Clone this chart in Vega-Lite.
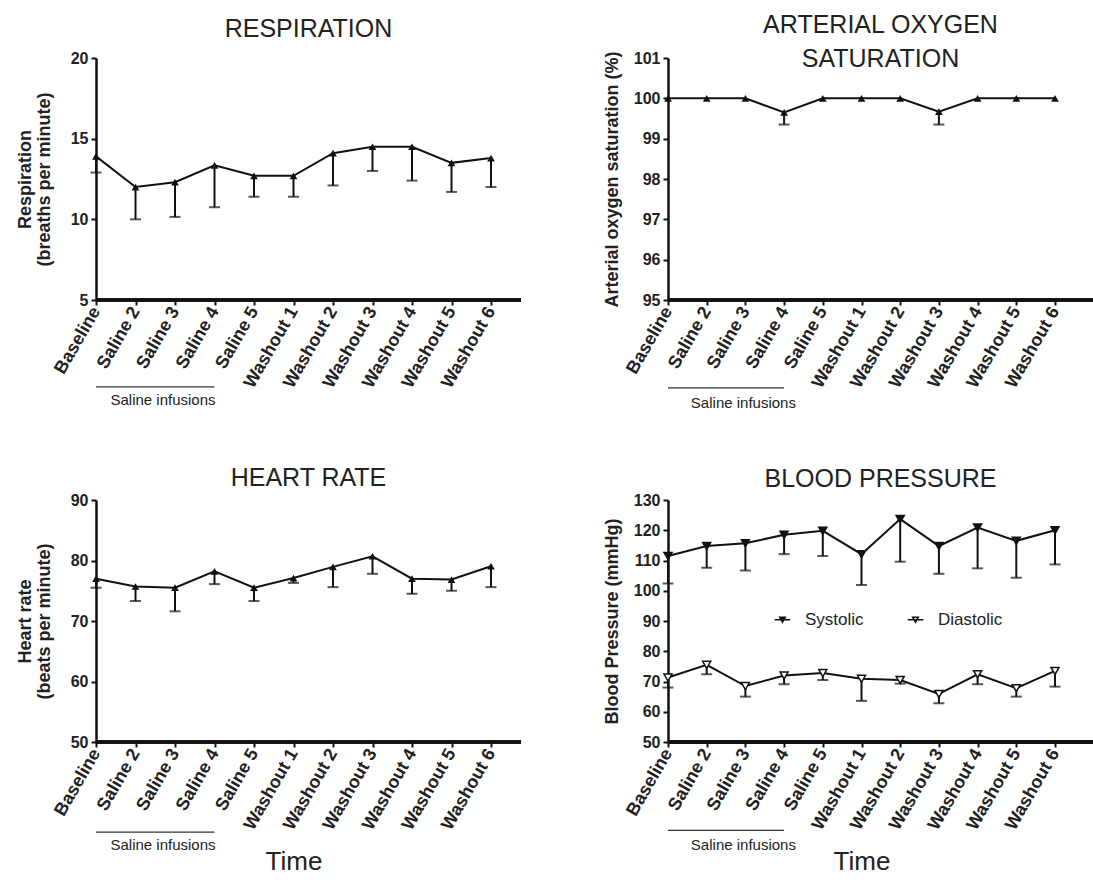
{
  "$schema": "https://vega.github.io/schema/vega-lite/v6.json",
  "background": "white",
  "padding": {"left": 16, "top": 13, "right": 0, "bottom": 0},
  "config": {
    "view": {"stroke": null},
    "font": "Liberation Sans",
    "axis": {"grid": false, "domainColor": "#111", "domainWidth": 2.5, "tickColor": "#111", "tickWidth": 2, "tickSize": 5, "labelFont": "Liberation Sans", "labelFontWeight": "bold", "labelFontSize": 16, "labelColor": "#222", "titleFont": "Liberation Sans", "titleFontWeight": "bold", "titleFontSize": 18, "titleColor": "#222", "labelPadding": 3, "labelOverlap": false},
    "axisY": {"labelOverlap": false},
    "axisX": {"labelFontSize": 18},
    "title": {"font": "Liberation Sans", "fontSize": 25, "fontWeight": "normal", "color": "#222", "anchor": "middle", "frame": "group"}
  },
  "datasets": {
    "resp": [
      {"time": "Baseline", "mean": 13.9, "lower": 12.9},
      {"time": "Saline 2", "mean": 12.0, "lower": 10.0},
      {"time": "Saline 3", "mean": 12.3, "lower": 10.15},
      {"time": "Saline 4", "mean": 13.35, "lower": 10.75},
      {"time": "Saline 5", "mean": 12.7, "lower": 11.4},
      {"time": "Washout 1", "mean": 12.7, "lower": 11.4},
      {"time": "Washout 2", "mean": 14.1, "lower": 12.1},
      {"time": "Washout 3", "mean": 14.5, "lower": 13.0},
      {"time": "Washout 4", "mean": 14.5, "lower": 12.4},
      {"time": "Washout 5", "mean": 13.5, "lower": 11.7},
      {"time": "Washout 6", "mean": 13.8, "lower": 12.0}
    ],
    "spo2": [
      {"time": "Baseline", "mean": 100, "lower": null},
      {"time": "Saline 2", "mean": 100, "lower": null},
      {"time": "Saline 3", "mean": 100, "lower": null},
      {"time": "Saline 4", "mean": 99.65, "lower": 99.35},
      {"time": "Saline 5", "mean": 100, "lower": null},
      {"time": "Washout 1", "mean": 100, "lower": null},
      {"time": "Washout 2", "mean": 100, "lower": null},
      {"time": "Washout 3", "mean": 99.67, "lower": 99.35},
      {"time": "Washout 4", "mean": 100, "lower": null},
      {"time": "Washout 5", "mean": 100, "lower": null},
      {"time": "Washout 6", "mean": 100, "lower": null}
    ],
    "hr": [
      {"time": "Baseline", "mean": 77.0, "lower": 75.5},
      {"time": "Saline 2", "mean": 75.7, "lower": 73.3},
      {"time": "Saline 3", "mean": 75.5, "lower": 71.6},
      {"time": "Saline 4", "mean": 78.2, "lower": 76.1},
      {"time": "Saline 5", "mean": 75.5, "lower": 73.3},
      {"time": "Washout 1", "mean": 77.1, "lower": 76.3},
      {"time": "Washout 2", "mean": 78.95, "lower": 75.6},
      {"time": "Washout 3", "mean": 80.7, "lower": 77.8},
      {"time": "Washout 4", "mean": 77.0, "lower": 74.5},
      {"time": "Washout 5", "mean": 76.85, "lower": 75.0},
      {"time": "Washout 6", "mean": 79.05, "lower": 75.6}
    ],
    "bp": [
      {"series": "Systolic", "time": "Baseline", "mean": 111.5, "lower": 102.4},
      {"series": "Systolic", "time": "Saline 2", "mean": 114.8, "lower": 107.6},
      {"series": "Systolic", "time": "Saline 3", "mean": 115.7, "lower": 106.7},
      {"series": "Systolic", "time": "Saline 4", "mean": 118.5, "lower": 112.1},
      {"series": "Systolic", "time": "Saline 5", "mean": 119.8, "lower": 111.5},
      {"series": "Systolic", "time": "Washout 1", "mean": 112.1, "lower": 101.9},
      {"series": "Systolic", "time": "Washout 2", "mean": 123.7, "lower": 109.6},
      {"series": "Systolic", "time": "Washout 3", "mean": 114.8, "lower": 105.6},
      {"series": "Systolic", "time": "Washout 4", "mean": 120.9, "lower": 107.4},
      {"series": "Systolic", "time": "Washout 5", "mean": 116.5, "lower": 104.3},
      {"series": "Systolic", "time": "Washout 6", "mean": 120.0, "lower": 108.7},
      {"series": "Diastolic", "time": "Baseline", "mean": 71.3, "lower": 68.0},
      {"series": "Diastolic", "time": "Saline 2", "mean": 75.5, "lower": 72.4},
      {"series": "Diastolic", "time": "Saline 3", "mean": 68.5, "lower": 65.0},
      {"series": "Diastolic", "time": "Saline 4", "mean": 72.0, "lower": 69.1},
      {"series": "Diastolic", "time": "Saline 5", "mean": 72.8, "lower": 70.5},
      {"series": "Diastolic", "time": "Washout 1", "mean": 70.9, "lower": 63.6},
      {"series": "Diastolic", "time": "Washout 2", "mean": 70.5, "lower": 69.3},
      {"series": "Diastolic", "time": "Washout 3", "mean": 65.9, "lower": 62.8},
      {"series": "Diastolic", "time": "Washout 4", "mean": 72.4, "lower": 69.1},
      {"series": "Diastolic", "time": "Washout 5", "mean": 67.8, "lower": 65.0},
      {"series": "Diastolic", "time": "Washout 6", "mean": 73.5, "lower": 68.3}
    ],
    "note": [{"label": "Saline infusions"}]
  },
  "columns": 2,
  "spacing": {"column": 147, "row": 200},
  "bounds": "flush",
  "concat": [
    {
      "width": 425, "height": 242,
      "title": {"text": "RESPIRATION", "offset": 8},
      "data": {"name": "resp"},
      "encoding": {
        "x": {"field": "time", "type": "nominal", "sort": null,
          "scale": {"type": "point", "domain": ["Baseline","Saline 2","Saline 3","Saline 4","Saline 5","Washout 1","Washout 2","Washout 3","Washout 4","Washout 5","Washout 6"], "range": [0, 395], "padding": 0},
          "axis": {"labelAngle": -60, "title": null, "domain": false}}
      },
      "layer": [
        {"mark": {"type": "rule", "color": "#111", "strokeWidth": 2.5}, "encoding": {"x": null, "y": {"datum": 5, "type": "quantitative", "scale": {"domain": [5, 20]}, "axis": {"values": [5, 10, 15, 20], "tickCount": 4, "title": ["Respiration", "(breaths per minute)"], "titleLineHeight": 19, "titlePadding": 17}}}},
        {"mark": {"type": "rule", "color": "#111", "strokeWidth": 2}, "encoding": {"y": {"field": "lower", "type": "quantitative", "scale": {"domain": [5, 20]}, "axis": {"values": [5, 10, 15, 20], "tickCount": 4, "title": ["Respiration", "(breaths per minute)"], "titleLineHeight": 19, "titlePadding": 17}}, "y2": {"field": "mean"}}},
        {"mark": {"type": "tick", "color": "#111", "size": 11, "thickness": 2}, "encoding": {"y": {"field": "lower", "type": "quantitative", "scale": {"domain": [5, 20]}}}},
        {"mark": {"type": "line", "color": "#111", "strokeWidth": 2}, "encoding": {"y": {"field": "mean", "type": "quantitative", "scale": {"domain": [5, 20]}}}},
        {"mark": {"type": "point", "shape": "triangle-up", "filled": true, "color": "#111", "size": 60, "opacity": 1}, "encoding": {"y": {"field": "mean", "type": "quantitative", "scale": {"domain": [5, 20]}}}},
        {"data": {"name": "note"}, "mark": {"type": "rule", "color": "#333", "strokeWidth": 1.3}, "encoding": {"x": {"datum": "Baseline"}, "x2": {"datum": "Saline 4"}, "y": {"datum": -0.39, "type": "quantitative", "scale": {"domain": [5, 20]}}}},
        {"data": {"name": "note"}, "mark": {"type": "text", "fontSize": 15, "color": "#222", "align": "center", "baseline": "middle", "dx": -12}, "encoding": {"x": {"datum": "Saline 3"}, "y": {"datum": -1.2, "type": "quantitative", "scale": {"domain": [5, 20]}}, "text": {"field": "label"}}}
      ]
    },
    {
      "width": 425, "height": 242,
      "title": {"text": ["ARTERIAL OXYGEN", "SATURATION"], "offset": -22, "lineHeight": 34},
      "data": {"name": "spo2"},
      "encoding": {
        "x": {"field": "time", "type": "nominal", "sort": null,
          "scale": {"type": "point", "domain": ["Baseline","Saline 2","Saline 3","Saline 4","Saline 5","Washout 1","Washout 2","Washout 3","Washout 4","Washout 5","Washout 6"], "range": [0, 387], "padding": 0},
          "axis": {"labelAngle": -60, "title": null, "domain": false}}
      },
      "layer": [
        {"mark": {"type": "rule", "color": "#111", "strokeWidth": 2.5}, "encoding": {"x": null, "y": {"datum": 95, "type": "quantitative", "scale": {"domain": [95, 101]}, "axis": {"values": [95, 96, 97, 98, 99, 100, 101], "tickCount": 7, "title": "Arterial oxygen saturation (%)", "titlePadding": 12}}}},
        {"mark": {"type": "rule", "color": "#111", "strokeWidth": 2}, "encoding": {"y": {"field": "lower", "type": "quantitative", "scale": {"domain": [95, 101]}, "axis": {"values": [95, 96, 97, 98, 99, 100, 101], "tickCount": 7, "title": "Arterial oxygen saturation (%)", "titlePadding": 12}}, "y2": {"field": "mean"}}},
        {"mark": {"type": "tick", "color": "#111", "size": 11, "thickness": 2}, "encoding": {"y": {"field": "lower", "type": "quantitative", "scale": {"domain": [95, 101]}}}},
        {"mark": {"type": "line", "color": "#111", "strokeWidth": 2}, "encoding": {"y": {"field": "mean", "type": "quantitative", "scale": {"domain": [95, 101]}}}},
        {"mark": {"type": "point", "shape": "triangle-up", "filled": true, "color": "#111", "size": 60, "opacity": 1}, "encoding": {"y": {"field": "mean", "type": "quantitative", "scale": {"domain": [95, 101]}}}},
        {"data": {"name": "note"}, "mark": {"type": "rule", "color": "#333", "strokeWidth": 1.3}, "encoding": {"x": {"datum": "Baseline"}, "x2": {"datum": "Saline 4"}, "y": {"datum": 92.82, "type": "quantitative", "scale": {"domain": [95, 101]}}}},
        {"data": {"name": "note"}, "mark": {"type": "text", "fontSize": 15, "color": "#222", "align": "center", "baseline": "middle", "dx": -2}, "encoding": {"x": {"datum": "Saline 3"}, "y": {"datum": 92.45, "type": "quantitative", "scale": {"domain": [95, 101]}}, "text": {"field": "label"}}}
      ]
    },
    {
      "width": 425, "height": 242,
      "title": {"text": "HEART RATE", "offset": 1},
      "data": {"name": "hr"},
      "encoding": {
        "x": {"field": "time", "type": "nominal", "sort": null,
          "scale": {"type": "point", "domain": ["Baseline","Saline 2","Saline 3","Saline 4","Saline 5","Washout 1","Washout 2","Washout 3","Washout 4","Washout 5","Washout 6"], "range": [0, 395], "padding": 0},
          "axis": {"labelAngle": -60, "title": "Time", "domain": false, "titleFontSize": 26, "titleFontWeight": "normal", "titlePadding": 16}}
      },
      "layer": [
        {"mark": {"type": "rule", "color": "#111", "strokeWidth": 2.5}, "encoding": {"x": null, "y": {"datum": 50, "type": "quantitative", "scale": {"domain": [50, 90]}, "axis": {"values": [50, 60, 70, 80, 90], "tickCount": 5, "title": ["Heart rate", "(beats per minute)"], "titleLineHeight": 19, "titlePadding": 17}}}},
        {"mark": {"type": "rule", "color": "#111", "strokeWidth": 2}, "encoding": {"y": {"field": "lower", "type": "quantitative", "scale": {"domain": [50, 90]}, "axis": {"values": [50, 60, 70, 80, 90], "tickCount": 5, "title": ["Heart rate", "(beats per minute)"], "titleLineHeight": 19, "titlePadding": 17}}, "y2": {"field": "mean"}}},
        {"mark": {"type": "tick", "color": "#111", "size": 11, "thickness": 2}, "encoding": {"y": {"field": "lower", "type": "quantitative", "scale": {"domain": [50, 90]}}}},
        {"mark": {"type": "line", "color": "#111", "strokeWidth": 2}, "encoding": {"y": {"field": "mean", "type": "quantitative", "scale": {"domain": [50, 90]}}}},
        {"mark": {"type": "point", "shape": "triangle-up", "filled": true, "color": "#111", "size": 60, "opacity": 1}, "encoding": {"y": {"field": "mean", "type": "quantitative", "scale": {"domain": [50, 90]}}}},
        {"data": {"name": "note"}, "mark": {"type": "rule", "color": "#333", "strokeWidth": 1.3}, "encoding": {"x": {"datum": "Baseline"}, "x2": {"datum": "Saline 4"}, "y": {"datum": 35.1, "type": "quantitative", "scale": {"domain": [50, 90]}}}},
        {"data": {"name": "note"}, "mark": {"type": "text", "fontSize": 15, "color": "#222", "align": "center", "baseline": "middle", "dx": -12}, "encoding": {"x": {"datum": "Saline 3"}, "y": {"datum": 33.0, "type": "quantitative", "scale": {"domain": [50, 90]}}, "text": {"field": "label"}}}
      ]
    },
    {
      "width": 425, "height": 242,
      "title": {"text": "BLOOD PRESSURE", "offset": 0},
      "data": {"name": "bp"},
      "encoding": {
        "x": {"field": "time", "type": "nominal", "sort": null,
          "scale": {"type": "point", "domain": ["Baseline","Saline 2","Saline 3","Saline 4","Saline 5","Washout 1","Washout 2","Washout 3","Washout 4","Washout 5","Washout 6"], "range": [0, 387], "padding": 0},
          "axis": {"labelAngle": -60, "title": "Time", "domain": false, "titleFontSize": 26, "titleFontWeight": "normal", "titlePadding": 16}}
      },
      "layer": [
        {"mark": {"type": "rule", "color": "#111", "strokeWidth": 2.5}, "encoding": {"x": null, "y": {"datum": 50, "type": "quantitative", "scale": {"domain": [50, 130]}, "axis": {"values": [50, 60, 70, 80, 90, 100, 110, 120, 130], "tickCount": 9, "labelOverlap": false, "title": "Blood Pressure (mmHg)", "titlePadding": 12}}}},
        {"mark": {"type": "rule", "color": "#111", "strokeWidth": 2}, "encoding": {"detail": {"field": "series"}, "y": {"field": "lower", "type": "quantitative", "scale": {"domain": [50, 130]}, "axis": {"values": [50, 60, 70, 80, 90, 100, 110, 120, 130], "tickCount": 9, "labelOverlap": false, "title": "Blood Pressure (mmHg)", "titlePadding": 12}}, "y2": {"field": "mean"}}},
        {"mark": {"type": "tick", "color": "#111", "size": 11, "thickness": 2}, "encoding": {"detail": {"field": "series"}, "y": {"field": "lower", "type": "quantitative", "scale": {"domain": [50, 130]}}}},
        {"mark": {"type": "line", "color": "#111", "strokeWidth": 2}, "encoding": {"detail": {"field": "series"}, "y": {"field": "mean", "type": "quantitative", "scale": {"domain": [50, 130]}}}},
        {"mark": {"type": "point", "shape": "triangle-down", "filled": true, "stroke": "#111", "strokeWidth": 1.5, "size": 65, "opacity": 1},
         "encoding": {"y": {"field": "mean", "type": "quantitative", "scale": {"domain": [50, 130]}},
           "fill": {"field": "series", "type": "nominal", "scale": {"domain": ["Systolic", "Diastolic"], "range": ["#111", "white"]},
             "legend": {"orient": "none", "legendX": 678, "legendY": 553, "direction": "horizontal", "title": null, "labelFont": "Liberation Sans", "labelFontSize": 17, "labelColor": "#222", "symbolType": "M-2.2,0H2.2M-0.8,-0.7H0.8L0,0.7Z", "symbolStrokeColor": "#111", "symbolStrokeWidth": 1.5, "symbolSize": 50, "labelOffset": 14, "columnPadding": 40}}}},
        {"data": {"name": "note"}, "mark": {"type": "rule", "color": "#333", "strokeWidth": 1.3}, "encoding": {"x": {"datum": "Baseline"}, "x2": {"datum": "Saline 4"}, "y": {"datum": 20.8, "type": "quantitative", "scale": {"domain": [50, 130]}}}},
        {"data": {"name": "note"}, "mark": {"type": "text", "fontSize": 15, "color": "#222", "align": "center", "baseline": "middle", "dx": -2}, "encoding": {"x": {"datum": "Saline 3"}, "y": {"datum": 15.8, "type": "quantitative", "scale": {"domain": [50, 130]}}, "text": {"field": "label"}}}
      ]
    }
  ]
}
